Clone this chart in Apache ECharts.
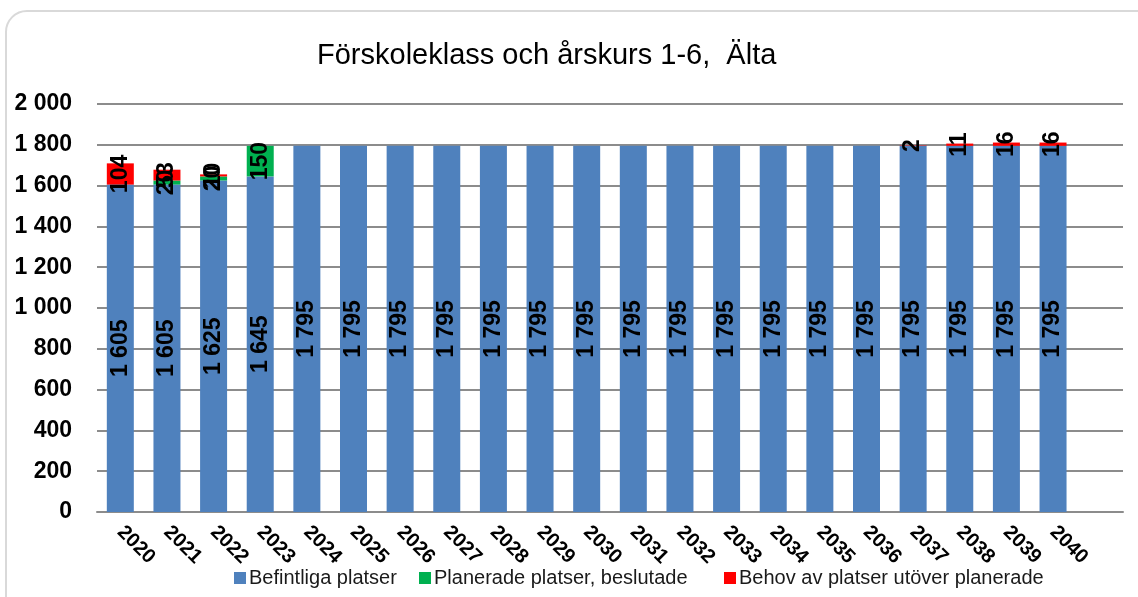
<!DOCTYPE html>
<html>
<head>
<meta charset="utf-8">
<script src="https://cdn.jsdelivr.net/npm/echarts@6/dist/echarts.min.js"></script>
<style>
  html, body { margin: 0; padding: 0; background: #fff; overflow: hidden; }
  .frame {
    position: absolute; left: 5px; top: 10px; width: 1200px; height: 700px;
    border: 2px solid #d9d9d9; border-radius: 22px; box-sizing: border-box;
  }
  #chart { position: absolute; left: 0; top: 0; width: 1138px; height: 597px; }
</style>
</head>
<body>
<div class="frame"></div>
<div id="chart"></div>
<script>
// data
var years = ["2020", "2021", "2022", "2023", "2024", "2025", "2026", "2027", "2028", "2029",
  "2030", "2031", "2032", "2033", "2034", "2035", "2036", "2037", "2038", "2039", "2040"];
var befintliga = [1605, 1605, 1625, 1645, 1795, 1795, 1795, 1795, 1795, 1795,
  1795, 1795, 1795, 1795, 1795, 1795, 1795, 1795, 1795, 1795, 1795];
var planerade = [0, 20, 20, 150, 0, 0, 0, 0, 0, 0,
  0, 0, 0, 0, 0, 0, 0, 0, 0, 0, 0];
var behov = [104, 53, 10, 0, 0, 0, 0, 0, 0, 0,
  0, 0, 0, 0, 0, 0, 0, 2, 11, 16, 16];
var yTicks = [0, 200, 400, 600, 800, 1000, 1200, 1400, 1600, 1800, 2000];

var names = ["Befintliga platser", "Planerade platser, beslutade", "Behov av platser utöver planerade"];
var colors = ["#4f81bd", "#00b050", "#ff0000"];

function fmt(v) {
  return String(v).replace(/\B(?=(\d{3})+(?!\d))/g, " ");
}

var chart = echarts.init(document.getElementById("chart"));

var labelStyle = {
  show: true,
  position: "inside",
  rotate: 90,
  color: "#000",
  fontFamily: "Liberation Sans",
  fontWeight: "bold",
  fontSize: 23,
  formatter: function (p) {
    return p.value ? fmt(p.value) : "";
  }
};

function series(i, values) {
  return {
    name: names[i],
    type: "bar",
    stack: "total",
    barWidth: 27,
    data: values,
    itemStyle: { color: colors[i] },
    label: labelStyle
  };
}

function legend(i, left) {
  return {
    data: [names[i]],
    left: left,
    top: 563,
    icon: "rect",
    itemWidth: 12,
    itemHeight: 12,
    itemGap: 4,
    textStyle: { fontFamily: "Liberation Sans", fontSize: 20, color: "#1a1a1a", padding: [0, 0, 0, -2] }
  };
}

chart.setOption({
  animation: false,
  color: colors,
  title: {
    text: "Förskoleklass och årskurs 1-6,  Älta",
    left: 312,
    top: 36,
    textStyle: { fontFamily: "Liberation Sans", fontSize: 29, fontWeight: "normal", color: "#000" }
  },
  legend: [legend(0, 229), legend(1, 414), legend(2, 719)],
  grid: { left: 97, right: 15, top: 104, bottom: 85 },
  xAxis: {
    type: "category",
    data: years.concat([""]),
    axisLine: { lineStyle: { color: "#8c8c8c", width: 2 } },
    axisTick: { show: false },
    axisLabel: {
      interval: 0,
      rotate: -45,
      margin: 17,
      color: "#000",
      fontFamily: "Liberation Sans",
      fontWeight: "bold",
      fontSize: 20
    }
  },
  yAxis: {
    type: "value",
    min: yTicks[0],
    max: yTicks[yTicks.length - 1],
    interval: yTicks[1] - yTicks[0],
    axisLine: { show: false },
    axisTick: { show: false },
    splitLine: { lineStyle: { color: "#8c8c8c", width: 2 } },
    axisLabel: {
      margin: 25,
      color: "#000",
      fontFamily: "Liberation Sans",
      fontWeight: "bold",
      fontSize: 23,
      formatter: function (v) { return fmt(v); }
    }
  },
  series: [series(0, befintliga), series(1, planerade), series(2, behov)]
});
</script>
</body>
</html>
